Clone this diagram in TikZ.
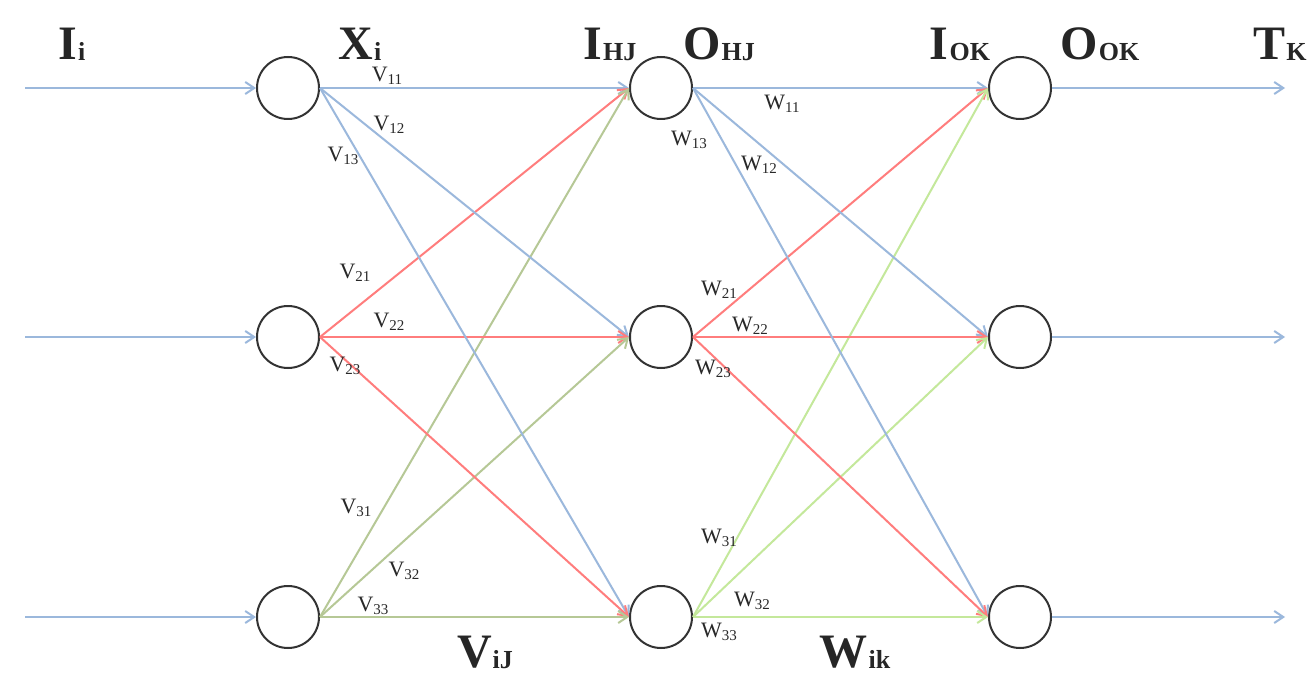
\documentclass[tikz,border=0pt]{standalone}
\usepackage{fontspec}
\setmainfont{Liberation Serif}
\usetikzlibrary{arrows.meta}
\definecolor{eblue}{RGB}{155,184,220}
\definecolor{ered}{RGB}{255,125,125}
\definecolor{eolive}{RGB}{182,200,150}
\definecolor{egreen}{RGB}{196,232,155}
\definecolor{txt}{RGB}{40,40,40}
\newcommand{\headlab}[2]{#1\kern0.5pt\raisebox{-0.5pt}{\fontsize{13}{13}\selectfont #2}}
\newcommand{\wl}[2]{#1\raisebox{-1.5pt}{\fontsize{7.5}{7.5}\selectfont #2}}
\begin{document}
\begin{tikzpicture}[x=0.5pt,y=-0.5pt,
  neuron/.style={circle,draw=black!80,line width=1pt,minimum size=31pt,inner sep=0pt},
  conn/.style={line width=1pt,-{Straight Barb[length=4.5pt,width=6pt]}},
  head/.style={font=\fontsize{24}{28}\selectfont\bfseries,text=black!85,inner sep=0pt},
  wlab/.style={font=\fontsize{11}{12}\selectfont,text=txt,inner sep=0pt}]
\useasboundingbox[fill=white] (0,0) rectangle (1310,679);
% neurons
\node[neuron] (x1) at (288,88) {};
\node[neuron] (x2) at (288,337) {};
\node[neuron] (x3) at (288,617) {};
\node[neuron] (h1) at (661,88) {};
\node[neuron] (h2) at (661,337) {};
\node[neuron] (h3) at (661,617) {};
\node[neuron] (o1) at (1020,88) {};
\node[neuron] (o2) at (1020,337) {};
\node[neuron] (o3) at (1020,617) {};
% free ends
\coordinate (in1) at (25,88);
\coordinate (in2) at (25,337);
\coordinate (in3) at (25,617);
\coordinate (out1) at (1285,88);
\coordinate (out2) at (1285,337);
\coordinate (out3) at (1285,617);
% input / output arrows
\foreach \i in {1,2,3} {
  \draw[conn,eblue] (in\i) -- (x\i.west);
  \draw[conn,eblue] (o\i.east) -- (out\i);
}
% input -> hidden
\foreach \j in {1,2,3} {
  \draw[conn,eblue] (x1.east) -- (h\j.west);
  \draw[conn,ered] (x2.east) -- (h\j.west);
  \draw[conn,eolive] (x3.east) -- (h\j.west);
}
% hidden -> output
\foreach \k in {1,2,3} {
  \draw[conn,eblue] (h1.east) -- (o\k.west);
  \draw[conn,ered] (h2.east) -- (o\k.west);
  \draw[conn,egreen] (h3.east) -- (o\k.west);
}
% headings
\node[head] (hIi) at (72,44) {\headlab{I}{i}};
\node[head] (hXi) at (360,44) {\headlab{X}{i}};
\node[head] (hIHJ) at (610,44) {\headlab{I}{HJ}};
\node[head] (hOHJ) at (719,44) {\headlab{O}{HJ}};
\node[head] (hIOK) at (960,44) {\headlab{I}{OK}};
\node[head] (hOOK) at (1100,44) {\headlab{O}{OK}};
\node[head] (hTK) at (1280,44) {\headlab{T}{K}};
\node[head] (hViJ) at (485,652) {\headlab{V}{iJ}};
\node[head] (hWik) at (855,652) {\headlab{W}{ik}};
% weight labels
\node[wlab] (v11) at (387,76) {\wl{V}{11}};
\node[wlab] (v12) at (389,125) {\wl{V}{12}};
\node[wlab] (v13) at (343,156) {\wl{V}{13}};
\node[wlab] (v21) at (355,273) {\wl{V}{21}};
\node[wlab] (v22) at (389,322) {\wl{V}{22}};
\node[wlab] (v23) at (345,366) {\wl{V}{23}};
\node[wlab] (v31) at (356,508) {\wl{V}{31}};
\node[wlab] (v32) at (404,571) {\wl{V}{32}};
\node[wlab] (v33) at (373,606) {\wl{V}{33}};
\node[wlab] (w11) at (782,104) {\wl{W}{11}};
\node[wlab] (w13) at (689,140) {\wl{W}{13}};
\node[wlab] (w12) at (759,165) {\wl{W}{12}};
\node[wlab] (w21) at (719,290) {\wl{W}{21}};
\node[wlab] (w22) at (750,326) {\wl{W}{22}};
\node[wlab] (w23) at (713,369) {\wl{W}{23}};
\node[wlab] (w31) at (719,538) {\wl{W}{31}};
\node[wlab] (w32) at (752,601) {\wl{W}{32}};
\node[wlab] (w33) at (719,632) {\wl{W}{33}};
\end{tikzpicture}
\end{document}
